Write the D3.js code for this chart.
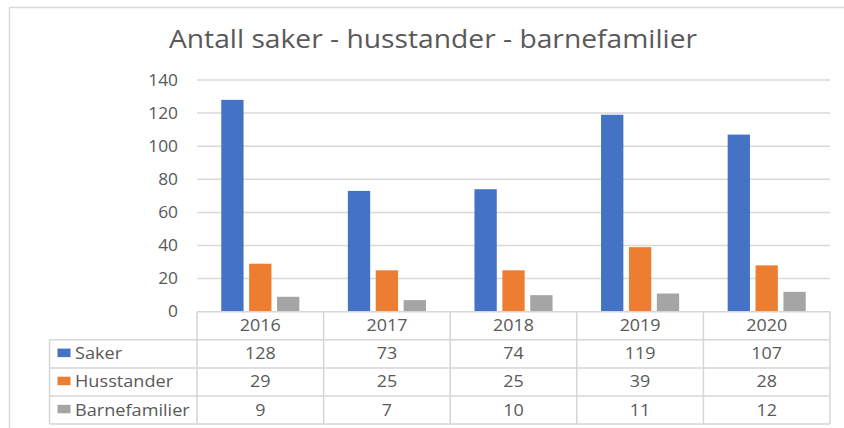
<html lang="no">
  <head>
    <meta charset="utf-8">
    <title>Antall saker</title>
    <script src="https://d3js.org/d3.v7.min.js"></script>
    <style>
      body { margin: 0; background: #fff; }
      text { font-family: "Open Sans", sans-serif; fill: #595959; }
    </style>
  </head>
  <body>
    <script type="text/javascript">
      var years = ["2016", "2017", "2018", "2019", "2020"];
      var seriesNames = ["Saker", "Husstander", "Barnefamilier"];
      var saker = [128, 73, 74, 119, 107];
      var husstander = [29, 25, 25, 39, 28];
      var barnefamilier = [9, 7, 10, 11, 12];
      var yTicks = [0, 20, 40, 60, 80, 100, 120, 140];
      var colors = ["#4472c4", "#ed7d31", "#a5a5a5"];

      var w = 844, h = 428;
      var plot = {left: 197, right: 830, top: 80, bottom: 311.7};
      var tableLeft = 49.5, rowH = 28.1;
      var sx = 1.12;   // picture is a little stretched sideways

      var values = [saker, husstander, barnefamilier];

      var svg = d3.select("body").append("svg")
                  .attr("width", w)
                  .attr("height", h);

      // frame
      svg.append("path")
         .attr("d", "M9.5," + h + "V7.5H" + w)
         .attr("fill", "none")
         .attr("stroke", "#d9d9d9")
         .attr("stroke-width", 1.5);

      var xScale = d3.scaleBand()
                     .domain(years)
                     .range([plot.left, plot.right]);
      var sScale = d3.scaleBand()
                     .domain(seriesNames)
                     .range([0, xScale.bandwidth()])
                     .paddingInner(0.2)
                     .paddingOuter(0.87);
      var yScale = d3.scaleLinear()
                     .domain([0, 140])
                     .range([plot.bottom, plot.top]);

      function label(g, x, y, str, size, anchor) {
        g.append("g")
         .attr("transform", "translate(" + x + "," + y + ") scale(" + sx + ",1)")
         .append("text")
         .attr("text-anchor", anchor)
         .style("font-size", size + "px")
         .text(str);
      }

      // title
      label(svg, 433, 47.5, "Antall saker - husstander - barnefamilier", 25.2, "middle");

      // gridlines
      svg.selectAll("line.grid")
         .data(yTicks.filter(d => d > 0))
         .enter().append("line")
         .attr("class", "grid")
         .attr("x1", plot.left).attr("x2", plot.right)
         .attr("y1", d => yScale(d)).attr("y2", d => yScale(d))
         .attr("stroke", "#d9d9d9")
         .attr("stroke-width", 1.5);

      // y labels
      var yl = svg.append("g");
      yTicks.forEach(function (t) {
        label(yl, 178, yScale(t) + 5.5, t, 15.5, "end");
      });

      // bars
      seriesNames.forEach(function (s, si) {
        svg.append("g").selectAll("rect")
           .data(values[si])
           .enter().append("rect")
           .attr("x", (d, i) => xScale(years[i]) + sScale(s))
           .attr("width", sScale.bandwidth())
           .attr("y", d => yScale(d))
           .attr("height", d => yScale(0) - yScale(d))
           .attr("fill", colors[si]);
      });

      // data table
      var tb = svg.append("g");
      var border = "#d6d6d6";
      var rowY = d3.range(5).map(i => plot.bottom + i * rowH);
      // horizontal lines
      tb.append("line")
        .attr("x1", plot.left).attr("x2", plot.right)
        .attr("y1", rowY[0]).attr("y2", rowY[0]);
      for (var r = 1; r < 5; r++) {
        tb.append("line")
          .attr("x1", tableLeft).attr("x2", plot.right)
          .attr("y1", rowY[r]).attr("y2", rowY[r]);
      }
      // vertical lines
      tb.append("line")
        .attr("x1", tableLeft).attr("x2", tableLeft)
        .attr("y1", rowY[1]).attr("y2", rowY[4]);
      years.forEach(function (y) {
        tb.append("line")
          .attr("x1", xScale(y)).attr("x2", xScale(y))
          .attr("y1", rowY[0]).attr("y2", rowY[4]);
      });
      tb.append("line")
        .attr("x1", plot.right).attr("x2", plot.right)
        .attr("y1", rowY[0]).attr("y2", rowY[4]);
      tb.selectAll("line")
        .attr("stroke", border)
        .attr("stroke-width", 1.5);

      // header
      years.forEach(function (y) {
        label(tb, xScale(y) + xScale.bandwidth() / 2, rowY[0] + 19.5, y, 16, "middle");
      });
      // rows
      seriesNames.forEach(function (s, si) {
        var ry = rowY[si + 1];
        tb.append("rect")
          .attr("x", 57.5).attr("y", ry + 8.8)
          .attr("width", 13).attr("height", 8.5)
          .attr("fill", colors[si]);
        label(tb, 75, ry + 19.5, s, 16.2, "start");
        values[si].forEach(function (v, i) {
          label(tb, xScale(years[i]) + xScale.bandwidth() / 2, ry + 19.5, v, 16, "middle");
        });
      });
    </script>
  </body>
</html>
